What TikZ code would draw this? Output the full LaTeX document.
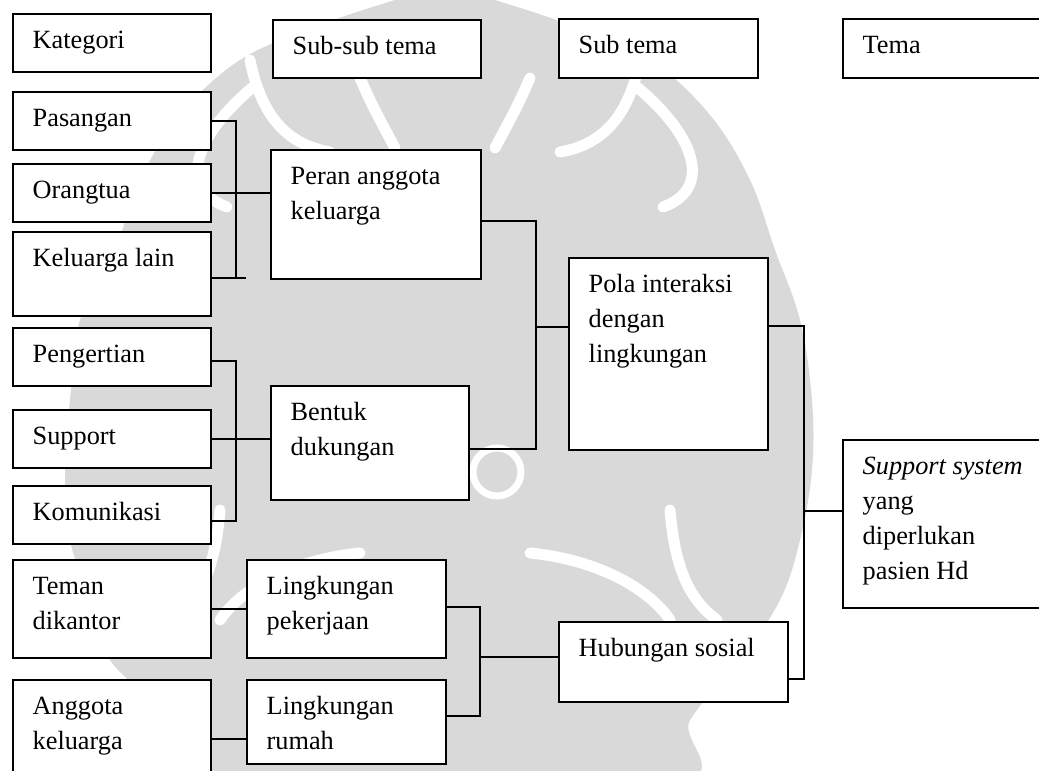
\documentclass[tikz,border=0pt]{standalone}
\usepackage{fontspec}
\setmainfont{Liberation Serif}
% box with its text set from the top-left corner
\newcommand\kotak[6]{%
  \node[box, minimum width={#4-#2}, minimum height={#5-#3}] (#1) at (#2,#3) {};
  \path (#1.north west) ++(20.5,35) node[txt, name=#1t] {\parbox[t]{300pt}{\raggedright #6}};
}
\begin{document}
\begin{tikzpicture}[x=1pt,y=-1pt,
  box/.style={draw, fill=white, line width=1.8pt, rectangle, inner sep=0pt, anchor=north west},
  txt/.style={anchor=base west, inner sep=0pt, font=\fontsize{26.3}{35}\selectfont},
  wire/.style={line width=1.7pt},
  emblem/.style={fill=black!15, draw=none},
  gap/.style={draw=white, line width=11pt, line cap=round}]
\useasboundingbox (0,0) rectangle (1039,771);
\clip (0,0) rectangle (1039,771);
\fill[white] (0,0) rectangle (1039,771);

% faint emblem behind the chart
\fill[emblem] plot[smooth cycle, tension=0.6] coordinates {
  (445,-15) (495,0) (570,25) (650,60) (710,115) (750,180) (775,250)
  (800,320) (812,400) (812,470) (800,540) (780,600) (740,660) (690,720)
  (660,790) (200,790) (170,720) (110,660) (90,600) (70,540) (65,470)
  (70,400) (80,320) (115,250) (140,180) (180,115) (240,60) (320,25) (395,0)};
\draw[gap] (360,78) .. controls (372,105) .. (395,148);
\draw[gap] (530,78) .. controls (518,105) .. (495,148);
\draw[gap] (250,60) .. controls (262,120) and (290,145) .. (330,152);
\draw[gap] (640,60) .. controls (628,120) and (600,145) .. (560,152);
\draw[gap] (637,87) .. controls (700,140) and (710,190) .. (663,207);
\draw[gap] (253,87) .. controls (190,140) and (180,190) .. (227,207);
\draw[gap] (530,553) .. controls (600,560) and (650,590) .. (670,620);
\draw[gap] (360,553) .. controls (290,560) and (240,590) .. (220,620);
\draw[gap] (670,510) .. controls (675,570) and (690,600) .. (717,620);
\draw[gap] (220,510) .. controls (215,570) and (200,600) .. (173,620);
\draw[white, line width=7pt] (497,472) circle (24);

% column headings
\kotak{kat}{12}{13}{210}{71}{Kategori}
\kotak{ssub}{272}{19}{480}{77}{Sub-sub tema}
\kotak{sub}{558}{18}{757}{77}{Sub tema}
\kotak{tema}{842}{18}{1050}{77}{Tema}

% categories
\kotak{pas}{12}{91}{210}{149}{Pasangan}
\kotak{ora}{12}{163}{210}{221}{Orangtua}
\kotak{kel}{12}{231}{210}{315}{Keluarga lain}
\kotak{pen}{12}{327}{210}{385}{Pengertian}
\kotak{sup}{12}{409}{210}{467}{Support}
\kotak{kom}{12}{485}{210}{543}{Komunikasi}
\kotak{tem}{12}{559}{210}{657}{Teman\\dikantor}
\kotak{ang}{12}{679}{210}{800}{Anggota\\keluarga}

% sub-sub themes
\kotak{per}{270}{149}{480}{278}{Peran anggota\\keluarga}
\kotak{ben}{270}{385}{468}{499}{Bentuk\\dukungan}
\kotak{lp}{246}{559}{445}{657}{Lingkungan\\pekerjaan}
\kotak{lr}{246}{679}{445}{763}{Lingkungan\\rumah}

% sub themes
\kotak{pola}{568}{257}{767}{449}{Pola interaksi\\dengan\\lingkungan}
\kotak{hub}{558}{621}{787}{701}{Hubungan sosial}

% theme
\kotak{ss}{842}{439}{1050}{607}{\textit{Support system}\\yang\\diperlukan\\pasien Hd}

% junction points of the brackets
\coordinate (j1) at (236,278);  \coordinate (j1e) at (246,278);
\coordinate (j2a) at (536,221); \coordinate (j2b) at (536,449); \coordinate (j2c) at (536,327);
\coordinate (j3a) at (804,326); \coordinate (j3b) at (804,679); \coordinate (j3c) at (804,511);
\coordinate (j4a) at (236,361); \coordinate (j4b) at (236,521);
\coordinate (j5) at (0,739);
\coordinate (j6a) at (480,607); \coordinate (j6b) at (480,716); \coordinate (j6c) at (480,657);

% family roles
\draw[wire] (pas.east) -| (j1);
\draw[wire] (kel.east |- j1) -- (j1e);
\draw[wire] (ora.east) -- (ora.east -| per.west);

% forms of support
\draw[wire] (pen.east |- j4a) -- (j4a) -- (j4b) -- (kom.east |- j4b);
\draw[wire] (sup.east) -- (sup.east -| ben.west);

% interaction pattern
\draw[wire] (per.east |- j2a) -- (j2a) -- (j2b) -- (ben.east |- j2b);
\draw[wire] (j2c) -- (pola.west |- j2c);

% social relations
\draw[wire] (tem.east) -- (lp.west |- tem.east);
\draw[wire] (ang.east |- j5) -- (lr.west |- j5);
\draw[wire] (lp.east |- j6a) -- (j6a) -- (j6b) -- (lr.east |- j6b);
\draw[wire] (j6c) -- (hub.west |- j6c);

% theme
\draw[wire] (pola.east |- j3a) -- (j3a) -- (j3b) -- (hub.east |- j3b);
\draw[wire] (j3c) -- (ss.west |- j3c);
\end{tikzpicture}
\end{document}
